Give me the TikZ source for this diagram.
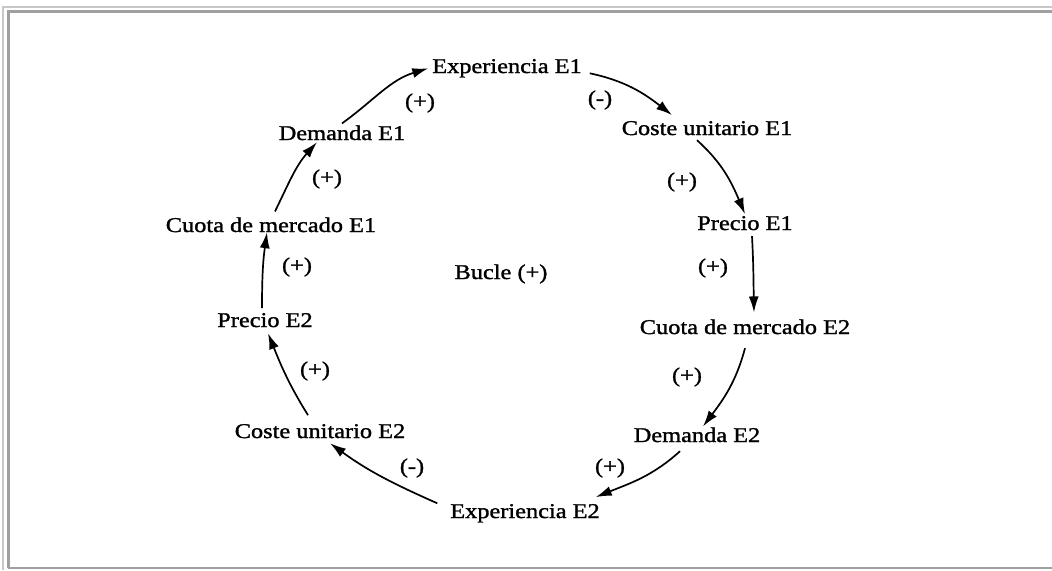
\documentclass[tikz,border=0pt]{standalone}
\usepackage{fontspec}
\setmainfont{Liberation Serif}[FakeStretch=1.16, FakeBold=1.3]
\usetikzlibrary{arrows.meta}
\definecolor{frameLight}{HTML}{C8C8C8}
\definecolor{frameDark}{HTML}{A0A0A0}
\begin{document}
\begin{tikzpicture}[x=0.5pt,y=0.5pt,
  lbl/.style={inner sep=1pt, outer sep=0pt, anchor=base, font=\fontsize{10.5}{12}\selectfont},
  sgn/.style={inner sep=0pt, anchor=center, font=\fontsize{10.5}{12}\selectfont},
  link/.style={line width=0.85pt, -{Latex[length=8pt,width=5pt]}}]
\useasboundingbox (0,0) rectangle (1052,-570);
\fill[white] (0,0) rectangle (1052,-570);
% window frame
\draw[frameLight, line width=0.75pt] (3,-570) -- (3,-7) -- (1052,-7);
\draw[frameDark, line width=1.5pt] (8,-567.5) -- (8,-11) -- (1052,-11);
\draw[frameDark, line width=1pt] (8,-567.5) -- (1052,-567.5);

% variables of the loop
\node[lbl] (x1)  at (507,-73)  {Experiencia E1};
\node[lbl] (c1)  at (707,-135) {Coste unitario E1};
\node[lbl] (p1)  at (745,-230) {Precio E1};
\node[lbl] (q2)  at (745,-334) {Cuota de mercado E2};
\node[lbl] (dm2) at (697,-442) {Demanda E2};
\node[lbl] (x2)  at (525,-518) {Experiencia E2};
\node[lbl] (c2)  at (320,-438) {Coste unitario E2};
\node[lbl] (pr2) at (265,-327) {Precio E2};
\node[lbl] (q1)  at (271,-232) {Cuota de mercado E1};
\node[lbl] (d1)  at (342,-140) {Demanda E1};
\node[lbl] (bucle) at (501,-279) {Bucle (+)};

% causal links
\draw[link] (d1.north) to[out=36,in=197] ([shift={(-2,0)}]x1.west);
\draw[link] ([shift={(6,-5)}]x1.east) to[out=-12,in=142] ([shift={(-35,4)}]c1.north);
\draw[link] ([shift={(-10,-3)}]c1.south) to[out=-42,in=113] (p1.north);
\draw[link] ([shift={(7,-4)}]p1.south) to[out=-87,in=91] ([shift={(9,5)}]q2.north);
\draw[link] ([shift={(0,-12)}]q2.south) to[out=-105,in=53] ([shift={(6,-1)}]dm2.north);
\draw[link] ([shift={(-17,-7)}]dm2.south) to[out=-138,in=22] ([shift={(-6,5)}]x2.north east);
\draw[link] ([shift={(-11,10)}]x2.west) to[out=156,in=-36] ([shift={(10,-3)}]c2.south);
\draw[link] ([shift={(-12,7)}]c2.north) to[out=122,in=-68] ([shift={(3,-4)}]pr2.south);
\draw[link] ([shift={(-3,3)}]pr2.north) to[out=90,in=-98] ([shift={(-4,2)}]q1.south);
\draw[link] ([shift={(4,4)}]q1.north) to[out=64,in=228] ([shift={(-25,0)}]d1.south);

% link polarities
\node[sgn] (s1)  at (420,-103) {(+)};
\node[sgn] (s2)  at (600,-100) {(-)};
\node[sgn] (s3)  at (682,-182) {(+)};
\node[sgn] (s4)  at (713,-268) {(+)};
\node[sgn] (s5)  at (687,-377) {(+)};
\node[sgn] (s6)  at (610,-468) {(+)};
\node[sgn] (s7)  at (412,-468) {(-)};
\node[sgn] (s8)  at (315,-371) {(+)};
\node[sgn] (s9)  at (297,-267) {(+)};
\node[sgn] (s10) at (327,-179) {(+)};
\end{tikzpicture}
\end{document}
